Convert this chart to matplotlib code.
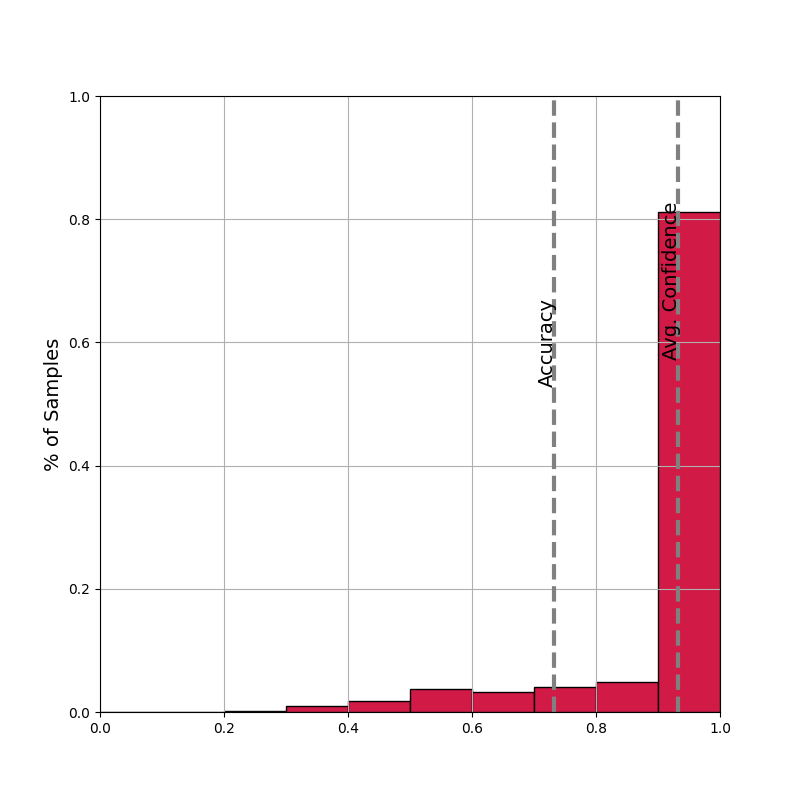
import matplotlib
matplotlib.use("Agg")
import matplotlib.pyplot as plt

bin_edges = [0.0, 0.1, 0.2, 0.3, 0.4, 0.5, 0.6, 0.7, 0.8, 0.9]
sample_frac = [0.0, 0.0, 0.002, 0.0098, 0.018, 0.037, 0.0325, 0.041, 0.049, 0.812]
accuracy = 0.732
avg_conf = 0.932

fig = plt.figure(figsize=(8, 8), dpi=100)
ax = fig.add_subplot(111)
ax.bar(bin_edges, sample_frac, width=0.1, align='edge',
       color='#d11a46', edgecolor='black', linewidth=1)
ax.axvline(accuracy, color='gray', linestyle='--', linewidth=3)
ax.axvline(avg_conf, color='gray', linestyle='--', linewidth=3)
ax.text(accuracy - 0.010, 0.528, 'Accuracy', rotation=90, fontsize=14,
        ha='center', va='bottom')
ax.text(avg_conf - 0.011, 0.572, 'Avg. Confidence', rotation=90, fontsize=14,
        ha='center', va='bottom')
ax.set_xlim(0, 1)
ax.set_ylim(0, 1)
ax.set_ylabel('% of Samples', fontsize=14)
ax.grid(True)
fig.savefig('out.png')
